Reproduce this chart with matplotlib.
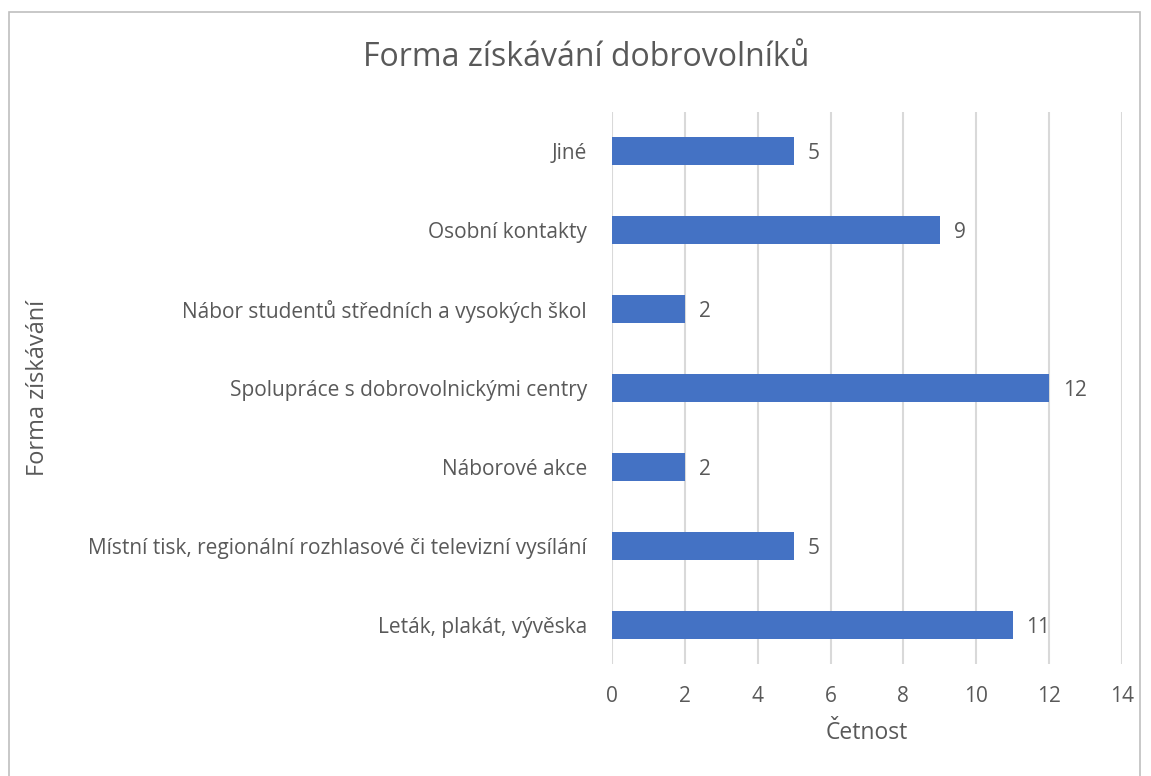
import matplotlib
matplotlib.use("Agg")
import matplotlib.pyplot as plt
from matplotlib.patches import Rectangle

categories = [
    "Leták, plakát, vývěska",
    "Místní tisk, regionální rozhlasové či televizní vysílání",
    "Náborové akce",
    "Spolupráce s dobrovolnickými centry",
    "Nábor studentů středních a vysokých škol",
    "Osobní kontakty",
    "Jiné",
]
values = [11, 5, 2, 12, 2, 9, 5]
xticks = [0, 2, 4, 6, 8, 10, 12, 14]
title = "Forma získávání dobrovolníků"
xlabel = "Četnost"
ylabel = "Forma získávání"

plt.rcParams['font.family'] = ['Open Sans', 'DejaVu Sans']
TXT = "#595959"
BAR = "#4472C4"

fig = plt.figure(figsize=(11.51, 7.76), dpi=100)
W, H = 1151, 776
ax = fig.add_axes([612 / W, 1 - 664 / H, (1122 - 612) / W, (664 - 112) / H])

ypos = list(range(len(categories)))
ax.barh(ypos, values, height=0.355, color=BAR, zorder=3)
for y, v in zip(ypos, values):
    ax.text(v + 0.38, y, str(v), va="center_baseline", ha="left", fontsize=15, color=TXT)

ax.set_xlim(0, 14)
ax.set_ylim(-0.5, len(categories) - 0.5)
ax.set_xticks(xticks)
ax.set_yticks(ypos)
ax.set_yticklabels(categories)
ax.tick_params(axis="both", length=0, labelsize=15, colors=TXT)
ax.tick_params(axis="x", pad=16)
ax.tick_params(axis="y", pad=18)
ax.grid(axis="x", color="#D9D9D9", linewidth=1.5, zorder=0)
for s in ax.spines.values():
    s.set_visible(False)

ax.set_xlabel(xlabel, fontsize=16.5, color=TXT, labelpad=10)
fig.text(38 / W, 1 - 388 / H, ylabel, rotation=90, ha="center", va="center", fontsize=17, color=TXT)
fig.text(586 / W, 1 - 58 / H, title, ha="center", va="center", fontsize=23, color=TXT)

fig.patches.append(Rectangle((9 / W, -0.01), (1140 - 9) / W, 1 - 12 / H + 0.01,
                             transform=fig.transFigure, fill=False, edgecolor="#BFBFBF", linewidth=1.2))

fig.savefig("out.png", dpi=100, facecolor="white")
